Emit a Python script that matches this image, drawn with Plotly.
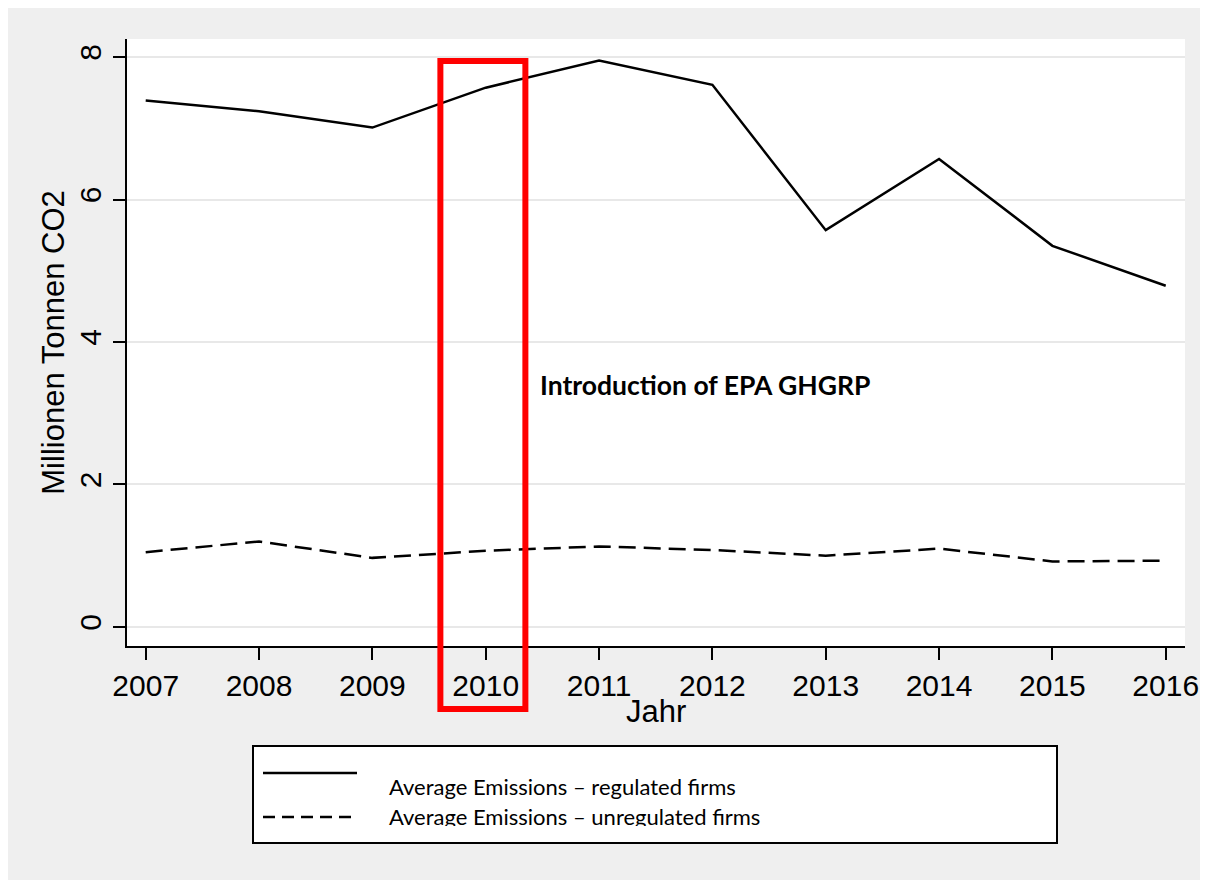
import plotly.graph_objects as go

# ---- data ----
years = [2007, 2008, 2009, 2010, 2011, 2012, 2013, 2014, 2015, 2016]
regulated = [7.39, 7.24, 7.01, 7.57, 7.95, 7.61, 5.57, 6.57, 5.35, 4.79]
unregulated = [1.05, 1.20, 0.97, 1.07, 1.13, 1.08, 1.00, 1.10, 0.92, 0.93]
y_ticks = [0, 2, 4, 6, 8]
highlight_year = 2010
name_reg = "Average Emissions \u2013 regulated firms"
name_unreg = "Average Emissions \u2013 unregulated firms"
annotation_text = "Introduction of EPA GHGRP"

# ---- layout geometry (screen pixels; page body has an 8px margin) ----
W, H = 1208, 880
OFF = 8
L, R, T, B = 127 - OFF, 1185 - OFF, 39 - OFF, 646 - OFF


def pxx(sx):
    return (sx - OFF - L) / (R - L)


def pxy(sy):
    return (B - (sy - OFF)) / (B - T)


fig = go.Figure()
fig.add_trace(go.Scatter(x=years, y=regulated, mode="lines", name=name_reg,
                         line=dict(color="black", width=2.5), showlegend=False))
fig.add_trace(go.Scatter(x=years, y=unregulated, mode="lines", name=name_unreg,
                         line=dict(color="black", width=2.5, dash="17px,8px"),
                         showlegend=False))

shapes = [
    # red highlight box
    dict(type="rect", xref="x", yref="paper", x0=highlight_year - 0.40,
         x1=highlight_year + 0.35, y0=pxy(709), y1=pxy(61),
         line=dict(color="#ff0000", width=6), fillcolor="rgba(0,0,0,0)", layer="above"),
    # legend box
    dict(type="rect", xref="paper", yref="paper", x0=pxx(253), x1=pxx(1057),
         y0=pxy(843), y1=pxy(746), fillcolor="white",
         line=dict(color="black", width=2), layer="above"),
    # legend samples
    dict(type="line", xref="paper", yref="paper", x0=pxx(263), x1=pxx(357),
         y0=pxy(773), y1=pxy(773), line=dict(color="black", width=2.5), layer="above"),
    dict(type="line", xref="paper", yref="paper", x0=pxx(263), x1=pxx(357),
         y0=pxy(817), y1=pxy(817), line=dict(color="black", width=2.5, dash="12px,7px"),
         layer="above"),
]

legend_font = dict(family="Lato, 'Open Sans', sans-serif", size=22, color="black")
title_font = dict(family="'Liberation Sans', Arial, sans-serif", size=31, color="black")
annotations = [
    dict(text=annotation_text, x=highlight_year + 0.46, y=3.4, xref="x", yref="y",
         xanchor="left", yanchor="middle", showarrow=False,
         font=dict(family="Lato, 'Open Sans', sans-serif", size=26.5, color="black",
                   weight="bold")),
    dict(text=name_reg, x=pxx(387), y=pxy(786), xref="paper", yref="paper",
         xanchor="left", yanchor="middle", showarrow=False, font=legend_font),
    dict(text=name_unreg, x=pxx(387), y=pxy(816), xref="paper", yref="paper",
         xanchor="left", yanchor="middle", showarrow=False, font=legend_font),
    # white cover clipping bottom of second legend line
    dict(text=" ", x=pxx(380), y=pxy(826), xref="paper", yref="paper",
         xanchor="left", yanchor="top", showarrow=False, width=660, height=16,
         bgcolor="white", borderpad=0, borderwidth=0, font=dict(size=4)),
    # x-axis title
    dict(text="Jahr", x=0.5, y=pxy(711), xref="paper", yref="paper",
         xanchor="center", yanchor="middle", showarrow=False, font=title_font),
]

axis_font = dict(family="'Liberation Sans', Arial, sans-serif", size=30, color="black")

fig.update_layout(
    width=W, height=H,
    margin=dict(l=L, r=W - R, t=T, b=H - B, pad=0),
    paper_bgcolor="#efefef",
    plot_bgcolor="white",
    shapes=shapes,
    annotations=annotations,
    showlegend=False,
    xaxis=dict(
        range=[2006.835, 2016.17], tickmode="array", tickvals=years,
        ticktext=[str(y) for y in years], ticks="outside", ticklen=12, tickwidth=1.5,
        tickcolor="black", showline=True, linecolor="black", linewidth=1.5,
        showgrid=False, zeroline=False, tickfont=axis_font,
    ),
    yaxis=dict(
        range=[-0.267, 8.253], tickmode="array", tickvals=y_ticks,
        ticks="outside", ticklen=12, tickwidth=1.5, tickcolor="black",
        showline=True, linecolor="black", linewidth=1.5,
        showgrid=True, gridcolor="#e8e8e8", gridwidth=2, zeroline=False,
        tickfont=axis_font, tickangle=-90,
        title=dict(text="Millionen Tonnen CO2", font=title_font, standoff=0),
    ),
)

fig.write_html("out.html", config={"displayModeBar": False})
